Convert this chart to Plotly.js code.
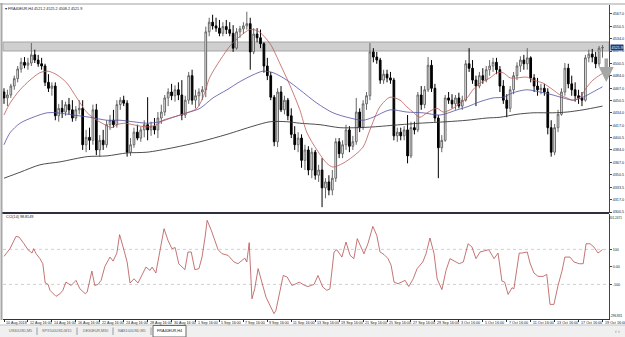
<!DOCTYPE html>
<html><head><meta charset="utf-8">
<script src="https://cdn.plot.ly/plotly-3.0.1.min.js"></script>
<style>html,body{margin:0;padding:0;background:#fff}#chart{width:625px;height:337px}</style>
</head><body><div id="chart"></div>
<script>
// ---------------- DATA ----------------
const symbol = "FRA40EUR,H4";
const openP = [
4462,4454,4458,4470,4480,4493,4502,4498,4501,4512,
4505,4500,4497,4475,4467,4470,4430,4440,4435,4445,
4438,4427,4438,4440,4391,4401,4397,4438,4384,4397,
4391,4418,4424,4418,4445,4451,4447,4381,4391,4408,
4400,4411,4418,4411,4416,4411,4427,4435,4454,4462,
4457,4465,4458,4431,4451,4484,4451,4457,4462,4465,
4543,4556,4551,4548,4541,4550,4546,4541,4521,4543,
4547,4551,4554,4516,4540,4535,4527,4497,4484,4455,
4395,4462,4438,4451,4430,4405,4391,4400,4370,4384,
4357,4381,4350,4357,4333,4341,4330,4346,4395,4379,
4391,4411,4389,4395,4435,4414,4446,4457,4516,4509,
4505,4478,4486,4481,4478,4403,4408,4403,4411,4376,
4414,4411,4458,4445,4465,4498,4467,4427,4387,4397,
4454,4451,4446,4454,4443,4451,4500,4494,4478,4470,
4484,4478,4492,4497,4502,4492,4470,4451,4440,4465,
4484,4497,4505,4500,4508,4481,4470,4465,4467,4462,
4414,4381,4414,4432,4462,4494,4473,4465,4457,4454,
4451,4508,4513,4509,4500,4521.2];
const highP = [
4467,4465,4473,4484,4497,4508,4509,4508,4528,4519,
4512,4508,4500,4486,4475,4475,4446,4451,4449,4454,
4451,4443,4451,4451,4411,4414,4445,4446,4404,4411,
4424,4431,4438,4451,4455,4457,4451,4400,4414,4418,
4415,4424,4455,4422,4427,4435,4445,4458,4467,4473,
4471,4475,4478,4457,4489,4492,4465,4467,4470,4550,
4562,4566,4562,4559,4556,4559,4556,4552,4548,4551,
4556,4570,4562,4548,4548,4546,4529,4508,4489,4458,
4467,4470,4457,4454,4440,4416,4408,4405,4391,4389,
4387,4384,4364,4373,4346,4350,4357,4400,4400,4397,
4418,4416,4403,4454,4440,4451,4462,4528,4521,4516,
4508,4492,4492,4489,4481,4414,4414,4416,4431,4422,
4422,4462,4470,4470,4509,4505,4473,4431,4404,4458,
4462,4459,4458,4461,4457,4505,4521,4505,4484,4489,
4494,4497,4505,4508,4508,4497,4478,4459,4470,4489,
4502,4510,4512,4521,4510,4486,4481,4473,4473,4467,
4424,4419,4438,4467,4501,4500,4484,4475,4465,4462,
4512,4519,4520,4516,4524,4525.2];
const lowP = [
4446,4443,4454,4465,4475,4488,4494,4492,4497,4501,
4496,4492,4470,4462,4457,4424,4422,4427,4430,4432,
4422,4423,4432,4384,4381,4384,4391,4377,4375,4384,
4387,4411,4414,4414,4438,4443,4375,4376,4387,4397,
4395,4401,4397,4403,4405,4400,4419,4430,4443,4451,
4449,4451,4424,4427,4446,4445,4440,4443,4451,4455,
4537,4546,4543,4537,4537,4540,4537,4516,4519,4535,
4540,4546,4492,4513,4529,4521,4488,4478,4451,4389,
4388,4435,4432,4424,4400,4384,4381,4360,4357,4350,
4346,4344,4341,4307,4319,4323,4323,4341,4373,4373,
4384,4381,4384,4391,4408,4411,4438,4451,4502,4500,
4473,4473,4475,4473,4397,4395,4397,4397,4366,4373,
4405,4408,4438,4440,4462,4462,4422,4346,4381,4395,
4446,4440,4438,4440,4438,4449,4489,4473,4443,4467,
4473,4475,4484,4489,4486,4462,4446,4428,4435,4459,
4478,4489,4492,4492,4475,4462,4457,4459,4457,4405,
4375,4377,4408,4430,4457,4467,4457,4449,4446,4443,
4449,4502,4502,4494,4496,4508.2];
const closeP = [
4454,4458,4470,4480,4493,4502,4498,4501,4512,4505,
4500,4497,4475,4467,4470,4430,4440,4435,4445,4438,
4427,4438,4440,4391,4401,4397,4438,4384,4397,4391,
4418,4424,4418,4445,4451,4447,4381,4391,4408,4400,
4411,4418,4411,4416,4411,4427,4435,4454,4462,4457,
4465,4458,4431,4451,4484,4451,4457,4462,4465,4543,
4556,4551,4548,4541,4550,4546,4541,4521,4543,4547,
4551,4554,4516,4540,4535,4527,4497,4484,4455,4395,
4462,4438,4451,4430,4405,4391,4400,4370,4384,4357,
4381,4350,4357,4333,4341,4330,4346,4395,4379,4391,
4411,4389,4395,4435,4414,4446,4457,4516,4509,4505,
4478,4486,4481,4478,4403,4408,4403,4411,4376,4414,
4411,4458,4445,4465,4498,4467,4427,4387,4397,4454,
4451,4446,4454,4443,4451,4500,4494,4478,4470,4484,
4478,4492,4497,4502,4492,4470,4451,4440,4465,4484,
4497,4505,4500,4508,4481,4470,4465,4467,4462,4414,
4381,4414,4432,4462,4494,4473,4465,4457,4454,4451,
4508,4513,4509,4500,4521,4521.9];

// time labels, one every labelStep bars
const labelStep = 7;
const timeLabels = ["10 Aug 2018","12 Aug 16:00","14 Aug 16:00","16 Aug 16:00","22 Aug 16:00","24 Aug 16:00",
"28 Aug 16:00","30 Aug 16:00","1 Sep 16:00","5 Sep 16:00","7 Sep 16:00","9 Sep 16:00","11 Sep 16:00",
"13 Sep 16:00","19 Sep 16:00","21 Sep 16:00","25 Sep 16:00","27 Sep 16:00","29 Sep 16:00","3 Oct 16:00",
"5 Oct 16:00","7 Oct 16:00","11 Oct 16:00","13 Oct 16:00","17 Oct 16:00","19 Oct 16:00"];

// price scale labels
const priceTicks = [4300.5,4317.0,4333.5,4350.5,4367.0,4384.0,4400.5,4417.0,4434.0,4450.5,4467.0,4484.0,4500.5,4517.0,4534.0,4550.5,4567.0];

// moving averages (bar index, price)
const maRedX = [0,1.75,4.7,7.6,10.5,12.9,15.5,18.4,21.3,24.3,27.2,29.5,31.6,33,35.4,37.7,41.8,44.7,46.5,49.4,53.5,56.4,58.2,60.2,63.2,66.1,69,71.9,74.3,77.8,80.7,83.6,86.5,88.6,91.5,94.4,96.2,99.1,102,105,107,109.9,112.9,115.8,117.8,119.6,121.6,123.7,126.6,128.4,131.3,133.3,135.4,137.1,139.2,142.1,144.2,145.9,148,150,152.9,154.7,157.6,160.5,162.6,164.6,166.4,168.4,170.5,172.2,174.3,175];
const maRedY = [4431,4447,4465,4478,4488,4490,4485,4474,4454,4434,4424,4418,4414,4418,4420,4418,4415,4418,4424,4428,4434,4440,4455,4482,4505,4524,4537,4546,4544,4527,4500,4471,4438,4407,4384,4366,4361,4366,4375,4388,4411,4442,4455,4451,4442,4435,4428,4434,4440,4435,4440,4447,4454,4465,4474,4481,4488,4488,4481,4481,4482,4478,4474,4465,4458,4454,4451,4455,4469,4478,4485,4487];
const maBlueX = [0,1.75,4.7,8.5,12.6,15.5,20.2,25.1,30.1,33.9,37.7,41.8,45.6,49.4,53.5,57.3,61.1,65.2,69,72.8,75.7,78.7,82.7,86.5,91.5,96.2,101.2,105,107.9,112.9,117.8,122.5,127.5,132.5,135.4,139.2,143,145.9,148.8,152.9,156.7,160.5,163.5,166.4,169.3,172.2,175];
const maBlueY = [4391,4407,4420,4428,4434,4434,4431,4428,4424,4424,4422,4420,4422,4428,4434,4440,4454,4465,4476,4485,4490,4488,4478,4465,4447,4434,4427,4424,4428,4438,4435,4434,4431,4438,4442,4449,4454,4455,4461,4465,4462,4458,4454,4451,4455,4462,4469];
const maBlackX = [0,4.7,10.5,16.4,24.3,30.1,36,41.8,49.4,57.3,65.2,72.8,77.8,82.7,86.5,92.4,98.2,103.2,107.9,115.8,121.6,129.5,135.4,141.2,145,150,154.7,160.5,164.6,169.3,175];
const maBlackY = [4346,4354,4364,4368,4375,4376,4380,4381,4387,4395,4405,4416,4422,4422,4420,4418,4414,4414,4415,4418,4420,4422,4424,4427,4428,4432,4434,4434,4435,4438,4443];

// CCI(14) (bar index, value)
const cciX = [0,1.75,3.5,4.4,5.85,7.0,8.2,8.65,9.4,10.5,
11.35,12.05,12.9,13.45,15.2,16.4,17.2,18.1,19.65,21.05,
22.2,23.75,24.3,25.7,26.55,27.5,28.4,29.5,31.0,31.9,
33.0,33.8,35.1,36.0,36.85,38.0,39.2,40.0,41.5,42.7,
43.3,44.4,45.6,46.8,47.95,49.1,50.05,51.1,52.9,53.8,
54.75,55.8,57.0,57.9,58.8,59.4,60.6,62.6,63.75,65.5,
67.25,68.4,69.6,70.4,71.0,71.7,72.5,73.3,74.3,75.45,
76.6,78.0,78.95,79.5,80.7,81.65,82.8,84.2,85.4,86.3,
87.95,88.9,89.8,90.65,91.8,93.2,94.4,95.3,96.5,97.3,
98.8,100.0,101.2,102.3,103.3,104.45,105.25,106.4,107.85,109.0,
109.95,111.1,112.3,113.2,114.05,115.2,116.4,117.3,118.35,119.65,
120.8,122.45,123.4,124.55,125.75,126.65,128.05,129.25,130.4,131.6,
133.1,134.3,135.7,136.85,138.0,139.2,140.6,141.75,143.3,144.45,
145.6,146.4,147.4,148.55,149.1,150.65,151.45,153.0,153.8,154.95,
156.15,157.65,158.7,159.65,160.8,162.0,163.15,164.0,165.5,166.65,
168.2,169.35,170.2,171.35,172.5,173.7,175];
const cciV = [60,104,174,170,132,98,79,104,75,47,
18,-92,-100,-134,-168,-153,-134,-87,-106,-77,
-125,-153,-144,-24,-106,-100,-77,3,56,33,
79,184,94,28,-92,-68,-92,-58,-1,-20,
-1,-35,98,218,151,104,110,18,-16,85,
85,-16,-10,56,170,266,209,98,75,66,
28,18,37,50,28,138,-182,-125,-10,-87,
-172,-229,-267,-249,-134,-49,-58,-106,-96,-87,
-106,-112,-106,-100,-49,-115,-134,-125,85,98,
56,142,66,47,161,104,75,132,231,180,
85,71,47,9,-87,-96,-87,-77,-112,-68,
-10,28,75,165,75,-68,-130,-20,47,33,
18,28,132,113,47,85,94,98,47,79,
-81,-87,-157,-119,-125,79,79,85,22,-35,
-54,-54,-43,-214,-214,-106,-24,56,56,28,
18,18,132,132,113,79,98.8];
const cciLast = 98.8149;
const cciLevels = [100, -100];
const cciMax = 301.2471, cciMin = -296.831;
const cciLevelTicks = [100, 0, -100];
const cciLevelText = ["100", "0.00", "-100"];
const cciMaxText = "301.2471", cciMinText = "-296.831";

// drawn objects
const bandLow = 4517.2, bandHigh = 4529.3;
const sellArrowTip = 4475.5;
const tabs = ["US30USD,M5", "SPX500USD,M15", "DE30EUR,M30", "NAS100USD,M5", "FRA40EUR,H4"];

// ---------------- LAYOUT HELPERS ----------------
const plotL = 3, plotR = 609, plotT = 5, plotB = 319;
const px = X => (X - plotL) / (plotR - plotL);
const py = Y => (plotB - Y) / (plotB - plotT);
const FONT = "Liberation Sans, Arial, sans-serif";
const FS = 3.7;

const nBars = closeP.length;
const barIdx = Array.from({length: nBars}, (_, i) => i);
const labelBars = timeLabels.map((_, k) => k * labelStep);

const traces = [
  {type:'candlestick', x: barIdx, open: openP, high: highP, low: lowP, close: closeP,
   xaxis:'x', yaxis:'y', whiskerwidth:0, hoverinfo:'skip',
   increasing:{line:{color:'#666666', width:1}, fillcolor:'#ffffff'},
   decreasing:{line:{color:'#000000', width:1}, fillcolor:'#000000'}},
  {type:'scatter', mode:'lines', x: maBlackX, y: maBlackY, xaxis:'x', yaxis:'y',
   line:{color:'#3a3a3a', width:0.9, shape:'spline', smoothing:0.8}, hoverinfo:'skip'},
  {type:'scatter', mode:'lines', x: maBlueX, y: maBlueY, xaxis:'x', yaxis:'y',
   line:{color:'#5050a4', width:0.8, shape:'spline', smoothing:0.8}, hoverinfo:'skip'},
  {type:'scatter', mode:'lines', x: maRedX, y: maRedY, xaxis:'x', yaxis:'y',
   line:{color:'#bd5a5a', width:0.8, shape:'spline', smoothing:0.8}, hoverinfo:'skip'},
  {type:'scatter', mode:'lines', x: cciX, y: cciV, xaxis:'x', yaxis:'y2',
   line:{color:'#b65252', width:0.8}, hoverinfo:'skip'}
];

const shapes = [
  {type:'rect', xref:'paper', yref:'y', x0:0, x1:1, y0:bandLow, y1:bandHigh,
   fillcolor:'#cfcfcf', line:{color:'#a4a4a4', width:1}, layer:'below'},
  {type:'line', xref:'paper', yref:'paper', x0:px(2), x1:1, y0:py(213), y1:py(213), line:{color:'#2e2e40', width:2}},
  {type:'line', xref:'paper', yref:'paper', x0:px(0), x1:px(625), y0:py(4), y1:py(4), line:{color:'#a0a0a0', width:1}},
  {type:'line', xref:'paper', yref:'paper', x0:px(1.5), x1:px(1.5), y0:py(3), y1:py(320), line:{color:'#a8a8a8', width:2}},
  {type:'rect', xref:'paper', yref:'paper', x0:px(0), x1:px(625), y0:py(325), y1:py(337), fillcolor:'#f0f0f0', line:{width:0}},
  {type:'line', xref:'paper', yref:'paper', x0:px(0), x1:px(625), y0:py(325), y1:py(325), line:{color:'#c4c4c4', width:1}},
  {type:'rect', xref:'paper', yref:'paper', x0:px(153), x1:px(186), y0:py(325.5), y1:py(337), fillcolor:'#ffffff', line:{color:'#6a6a6a', width:1}}
];
cciLevels.forEach(lv => shapes.push({type:'line', xref:'paper', yref:'y2', x0:0, x1:1, y0:lv, y1:lv,
  line:{color:'#d0d0d0', width:1, dash:'dot'}, layer:'below'}));
[37, 77, 113, 151].forEach(X => shapes.push({type:'line', xref:'paper', yref:'paper', x0:px(X), x1:px(X), y0:py(327.5), y1:py(335), line:{color:'#9a9a9a', width:1}}));

const last = nBars - 1;
const txtFont = {size:FS, color:'#1a1a1a', family:FONT};
const annotations = [];
labelBars.forEach((b, k) => annotations.push({xref:'x', yref:'paper', x:b, y:py(323.3), text:timeLabels[k],
  showarrow:false, xanchor:'left', yanchor:'middle', xshift:0, font:txtFont}));
annotations.push({xref:'paper', yref:'paper', x:px(3), y:py(8.5), xanchor:'left', yanchor:'middle', showarrow:false,
  text:'\u25BE ' + symbol + ' ' + openP[last].toFixed(1) + ' ' + highP[last].toFixed(1) + ' ' + lowP[last].toFixed(1) + ' ' + closeP[last].toFixed(1),
  font:txtFont});
annotations.push({xref:'paper', yref:'paper', x:px(4), y:py(217.3), xanchor:'left', yanchor:'middle', showarrow:false,
  text:'CCI(14) ' + cciLast.toFixed(4), font:txtFont});
// CCI scale extremes (MT4 prints max at top, min at bottom of sub-window)
annotations.push({xref:'paper', yref:'paper', x:px(624), y:py(218), xanchor:'right', yanchor:'middle', showarrow:false,
  text:cciMaxText, font:{size:3.1, color:'#1a1a1a', family:FONT}});
annotations.push({xref:'paper', yref:'paper', x:px(624), y:py(316), xanchor:'right', yanchor:'middle', showarrow:false,
  text:cciMinText, font:{size:3.1, color:'#1a1a1a', family:FONT}});
annotations.push({xref:'paper', yref:'y', x:1, y:closeP[last], xanchor:'left', yanchor:'middle', xshift:0.5, showarrow:false,
  text:closeP[last].toFixed(1), bgcolor:'#1e3c78', borderpad:0.6, font:{size:FS, color:'#ffffff', family:FONT}});
annotations.push({xref:'x', yref:'y', x:176.1, y:sellArrowTip, ax:0, ay:-25, axref:'pixel', ayref:'pixel', text:'',
  showarrow:true, arrowhead:2, arrowsize:0.85, arrowwidth:3.5, arrowcolor:'#a6a6a6'});
const tabCenters = [20, 57, 95, 132, 169.5];
tabs.forEach((t, k) => annotations.push({xref:'paper', yref:'paper', x:px(tabCenters[k]), y:py(331.3), text:t,
  showarrow:false, xanchor:'center', yanchor:'middle', font:{size:FS, color: k === tabs.length-1 ? '#111' : '#666', family:FONT}}));
annotations.push({xref:'paper', yref:'paper', x:px(617), y:py(331), text:'\u2039 \u203A', showarrow:false,
  xanchor:'center', yanchor:'middle', font:{size:5, color:'#777', family:FONT}});

const layout = {
  width:625, height:337, margin:{l:3, r:16, t:5, b:18, pad:0},
  paper_bgcolor:'#ffffff', plot_bgcolor:'#ffffff', showlegend:false,
  font:{family:FONT, size:FS, color:'#1a1a1a'},
  xaxis:{range:[-0.292, 176.9], showgrid:false, zeroline:false, showline:true, linecolor:'#333', linewidth:1,
    ticks:'outside', ticklen:2, tickcolor:'#333', tickvals:labelBars, showticklabels:false,
    rangeslider:{visible:false}, anchor:'y2', fixedrange:true},
  yaxis:{domain:[py(213), 1], range:[4299.15, 4579.1], side:'right', showgrid:false, zeroline:false,
    showline:true, linecolor:'#444', linewidth:1, ticks:'outside', ticklen:2, tickcolor:'#444',
    tickvals:priceTicks, ticktext:priceTicks.map(v => v.toFixed(1)), tickfont:{size:FS, color:'#1a1a1a'}, fixedrange:true},
  yaxis2:{domain:[0, py(214)], range:[cciMin - 0.5, cciMax + 0.5], side:'right', showgrid:false, zeroline:false,
    showline:true, linecolor:'#444', linewidth:1, ticks:'outside', ticklen:2, tickcolor:'#444',
    tickvals:cciLevelTicks, ticktext:cciLevelText, tickfont:{size:FS, color:'#1a1a1a'}, fixedrange:true},
  shapes:shapes, annotations:annotations
};

Plotly.newPlot('chart', traces, layout, {displayModeBar:false, staticPlot:true});
</script>
</body></html>
